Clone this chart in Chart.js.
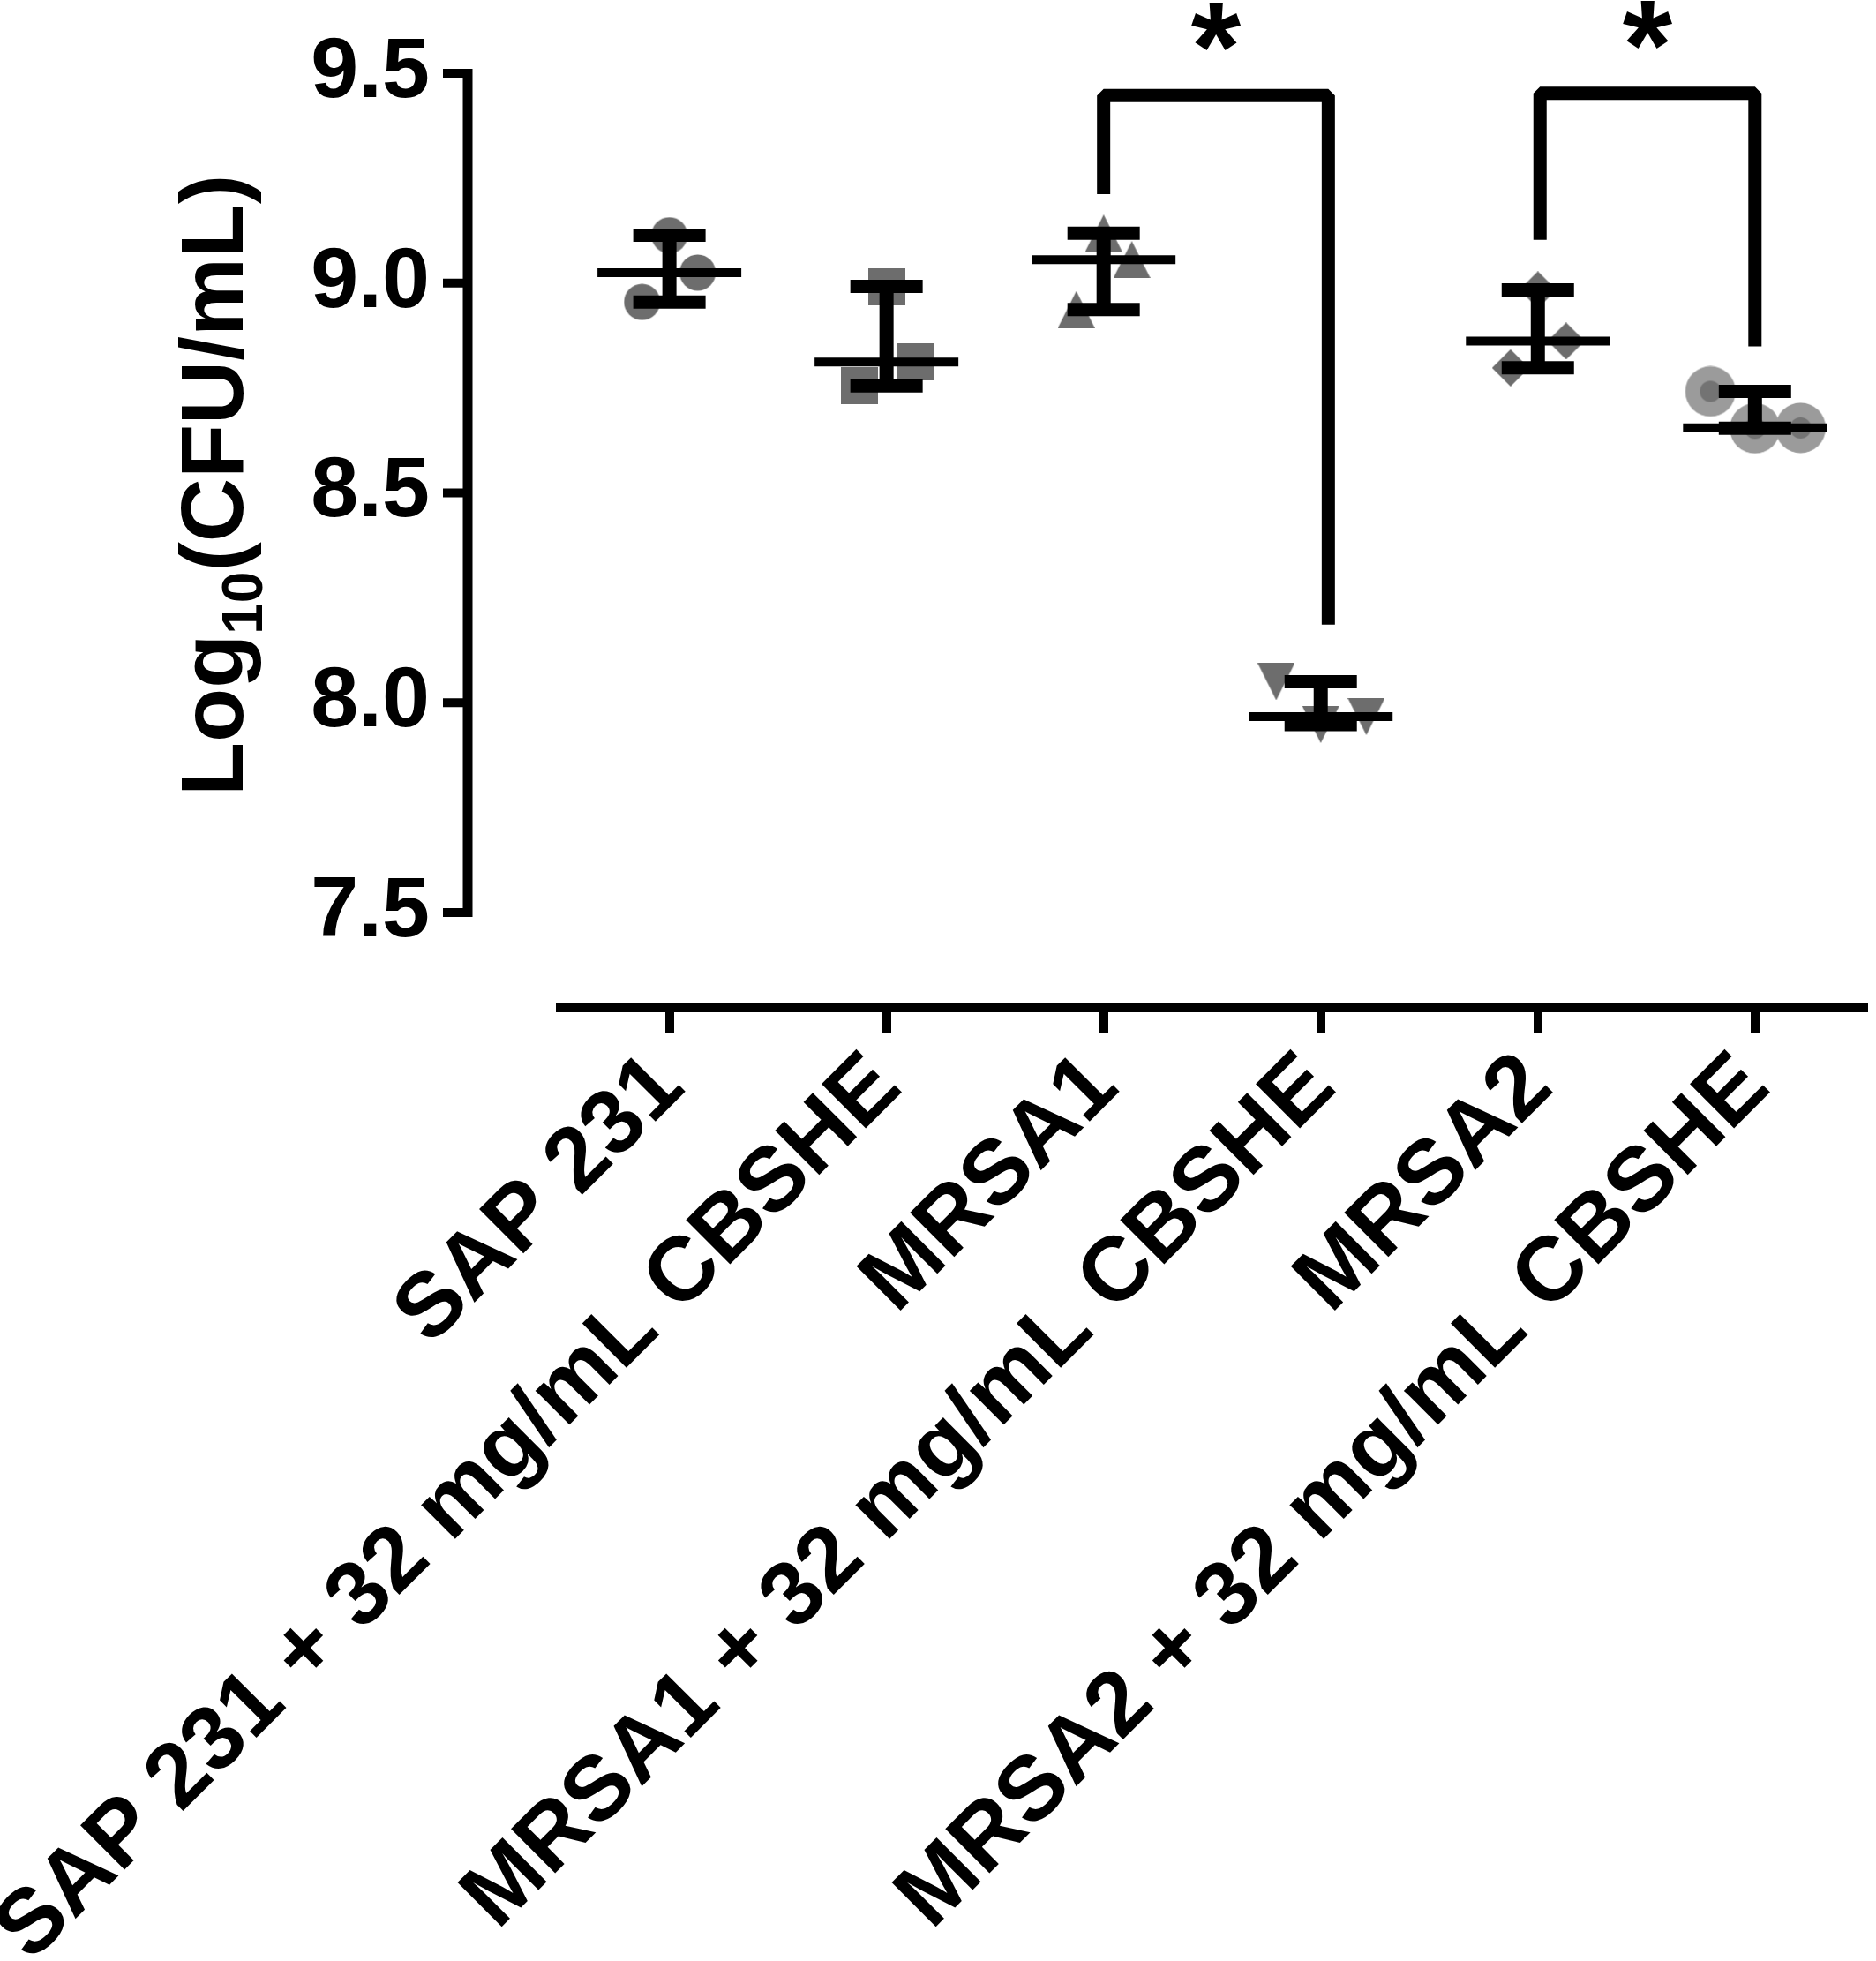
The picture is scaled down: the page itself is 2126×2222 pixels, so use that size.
<!DOCTYPE html>
<html>
<head>
<meta charset="utf-8">
<script src="https://cdn.jsdelivr.net/npm/chart.js@4.4.1/dist/chart.umd.min.js"></script>
<style>
  html, body { margin: 0; padding: 0; background: #ffffff; }
  canvas { display: block; }
</style>
</head>
<body>
<canvas id="cfuChart" width="2126" height="2222"></canvas>
<script>
// groups, left to right
const categories = [
    'SAP 231',
    'SAP 231 + 32 mg/mL CBSHE',
    'MRSA1',
    'MRSA1 + 32 mg/mL CBSHE',
    'MRSA2',
    'MRSA2 + 32 mg/mL CBSHE'
];

// log10(CFU/mL), three replicates per group
const sap231      = [9.114, 9.025, 8.955];
const sap231Cbshe = [8.992, 8.812, 8.755];
const mrsa1       = [9.119, 9.056, 8.937];
const mrsa1Cbshe  = [8.050, 7.948, 7.967];
const mrsa2       = [8.984, 8.862, 8.798];
const mrsa2Cbshe  = [8.742, 8.654, 8.655];

// horizontal scatter of each replicate, in category widths
const jitterNarrow = [0, 0.13, -0.126];
const jitterWide   = [-0.205, 0, 0.21];

const yTicks = [7.5, 8.0, 8.5, 9.0, 9.5];

// significance brackets: x of both legs, leg ends and top bar in log units
const brackets = [
    { from: 2, to: 3.035, left: 9.212, top: 9.447, right: 8.186, mark: '*' },
    { from: 4.01, to: 5, left: 9.103, top: 9.452, right: 8.849, mark: '*' }
];

document.addEventListener('DOMContentLoaded', function() {
    const black = '#000000';
    const markerGray = '#6d6d6d';
    const fontFamily = '"Liberation Sans", Arial, sans-serif';

    function makeMarker(kind) {
        const c = document.createElement('canvas');
        const g = c.getContext('2d');
        if (kind === 'ring') {
            c.width = c.height = 58;
            g.fillStyle = '#9b9b9b';
            g.beginPath(); g.arc(29, 29, 28.5, 0, Math.PI * 2); g.fill();
            g.fillStyle = '#737373';
            g.beginPath(); g.arc(29, 29, 12, 0, Math.PI * 2); g.fill();
            return c;
        }
        c.width = 42; c.height = 42;
        g.fillStyle = markerGray;
        g.beginPath();
        if (kind === 'circle') {
            g.arc(21, 21, 20.5, 0, Math.PI * 2);
        } else if (kind === 'square') {
            g.rect(0, 0, 42, 42);
        } else if (kind === 'triangle') {
            g.moveTo(21, 0); g.lineTo(42, 42); g.lineTo(0, 42);
        } else if (kind === 'triangleDown') {
            g.moveTo(0, 0); g.lineTo(42, 0); g.lineTo(21, 42);
        } else if (kind === 'diamond') {
            g.moveTo(21, 0); g.lineTo(42, 21); g.lineTo(21, 42); g.lineTo(0, 21);
        }
        g.closePath();
        g.fill();
        return c;
    }

    const groups = [
        { values: sap231,      jitter: jitterNarrow, marker: makeMarker('circle') },
        { values: sap231Cbshe, jitter: jitterNarrow, marker: makeMarker('square') },
        { values: mrsa1,       jitter: jitterNarrow, marker: makeMarker('triangle') },
        { values: mrsa1Cbshe,  jitter: jitterWide,   marker: makeMarker('triangleDown') },
        { values: mrsa2,       jitter: jitterNarrow, marker: makeMarker('diamond') },
        { values: mrsa2Cbshe,  jitter: jitterWide,   marker: makeMarker('ring') }
    ];

    const median = arr => arr.slice().sort((a, b) => a - b)[Math.floor(arr.length / 2)];

    const datasets = [];

    // replicate points, drawn underneath the summary bars
    groups.forEach((grp, i) => {
        datasets.push({
            data: grp.values.map((v, j) => ({ x: i + grp.jitter[j], y: v })),
            pointStyle: grp.marker,
            pointRadius: 21,
            order: 3
        });
    });

    // range stems (min to max)
    groups.forEach((grp, i) => {
        datasets.push({
            data: [
                { x: i, y: Math.min(...grp.values) },
                { x: i, y: Math.max(...grp.values) }
            ],
            showLine: true,
            borderColor: black,
            borderWidth: 16,
            borderCapStyle: 'butt',
            pointRadius: 0,
            order: 1
        });
    });

    // range caps
    datasets.push({
        data: groups.flatMap((grp, i) => [
            { x: i, y: Math.min(...grp.values) },
            { x: i, y: Math.max(...grp.values) }
        ]),
        pointStyle: 'line',
        pointRadius: 41,
        pointBorderWidth: 15,
        pointBorderColor: black,
        order: 1
    });

    // median lines
    datasets.push({
        data: groups.map((grp, i) => ({ x: i, y: median(grp.values) })),
        pointStyle: 'line',
        pointRadius: 81.5,
        pointBorderWidth: 10,
        pointBorderColor: black,
        order: 1
    });

    // significance brackets
    brackets.forEach(b => {
        datasets.push({
            data: [
                { x: b.from, y: b.left },
                { x: b.from, y: b.top },
                { x: b.to, y: b.top },
                { x: b.to, y: b.right }
            ],
            showLine: true,
            borderColor: black,
            borderWidth: 15,
            borderJoinStyle: 'bevel',
            borderCapStyle: 'butt',
            pointRadius: 0,
            order: 0
        });
    });

    const decorations = {
        id: 'decorations',
        beforeDraw(chart) {
            const ctx = chart.ctx;
            ctx.save();
            ctx.fillStyle = '#ffffff';
            ctx.fillRect(0, 0, chart.width, chart.height);
            ctx.restore();
        },
        afterDraw(chart) {
            const { ctx, chartArea, scales: { x, y } } = chart;

            // free-standing y axis, offset from the x axis
            const axisX = chartArea.left - 105;
            const yTop = y.getPixelForValue(yTicks[yTicks.length - 1]);
            const yBottom = y.getPixelForValue(yTicks[0]);
            ctx.save();
            ctx.strokeStyle = black;
            ctx.lineCap = 'butt';
            ctx.lineWidth = 11;
            ctx.beginPath();
            ctx.moveTo(axisX, yTop - 5);
            ctx.lineTo(axisX, yBottom + 5);
            ctx.stroke();
            ctx.lineWidth = 10;
            ctx.beginPath();
            yTicks.forEach(v => {
                const py = y.getPixelForValue(v);
                ctx.moveTo(axisX - 28, py);
                ctx.lineTo(axisX + 5, py);
            });
            ctx.stroke();

            // y title with subscript
            ctx.fillStyle = black;
            ctx.translate(275, 902);
            ctx.rotate(-Math.PI / 2);
            ctx.textAlign = 'left';
            ctx.textBaseline = 'alphabetic';
            let cx = 0;
            ctx.font = 'bold 100px ' + fontFamily;
            ctx.fillText('Log', cx, 0);
            cx += ctx.measureText('Log').width;
            ctx.font = 'bold 64px ' + fontFamily;
            ctx.fillText('10', cx, 22);
            cx += ctx.measureText('10').width;
            ctx.font = 'bold 100px ' + fontFamily;
            ctx.fillText('(CFU/mL)', cx, 0);
            ctx.restore();

            // significance marks
            ctx.save();
            ctx.fillStyle = black;
            ctx.font = 'bold 145px ' + fontFamily;
            ctx.textAlign = 'center';
            ctx.textBaseline = 'alphabetic';
            brackets.forEach(b => {
                const px = x.getPixelForValue((b.from + b.to) / 2);
                const py = y.getPixelForValue(b.top);
                ctx.fillText(b.mark, px, py - 5);
            });
            ctx.restore();
        }
    };

    new Chart(document.getElementById('cfuChart').getContext('2d'), {
        type: 'scatter',
        data: { datasets: datasets },
        options: {
            responsive: false,
            devicePixelRatio: 1,
            animation: false,
            events: [],
            layout: { autoPadding: false, padding: { top: 0, left: 0, right: 14, bottom: 0 } },
            plugins: {
                legend: { display: false },
                tooltip: { enabled: false }
            },
            scales: {
                x: {
                    type: 'linear',
                    position: 'bottom',
                    min: -0.5024,
                    max: 5.5007,
                    afterBuildTicks: scale => {
                        scale.ticks = categories.map((c, i) => ({ value: i }));
                    },
                    afterFit: scale => {
                        scale.height = 1080;
                        scale.paddingLeft = 0;
                        scale.paddingRight = 0;
                    },
                    border: { display: true, color: black, width: 10 },
                    grid: {
                        display: true,
                        drawOnChartArea: false,
                        drawTicks: true,
                        tickLength: 29,
                        lineWidth: 10,
                        color: black
                    },
                    ticks: {
                        autoSkip: false,
                        maxRotation: 45,
                        minRotation: 45,
                        padding: 0,
                        color: black,
                        font: { family: fontFamily, size: 103, weight: 'bold' },
                        callback: v => categories[v]
                    }
                },
                y: {
                    type: 'linear',
                    min: 7.2729,
                    max: 9.6746,
                    afterBuildTicks: scale => {
                        scale.ticks = yTicks.map(v => ({ value: v }));
                    },
                    afterFit: scale => {
                        scale.width = 635;
                        scale.paddingTop = 0;
                        scale.paddingBottom = 0;
                    },
                    border: { display: false },
                    grid: { display: false, drawTicks: false },
                    ticks: {
                        padding: 148,
                        color: black,
                        font: { family: fontFamily, size: 97, weight: 'bold' },
                        callback: v => v.toFixed(1)
                    }
                }
            }
        },
        plugins: [decorations]
    });
});
</script>
</body>
</html>
